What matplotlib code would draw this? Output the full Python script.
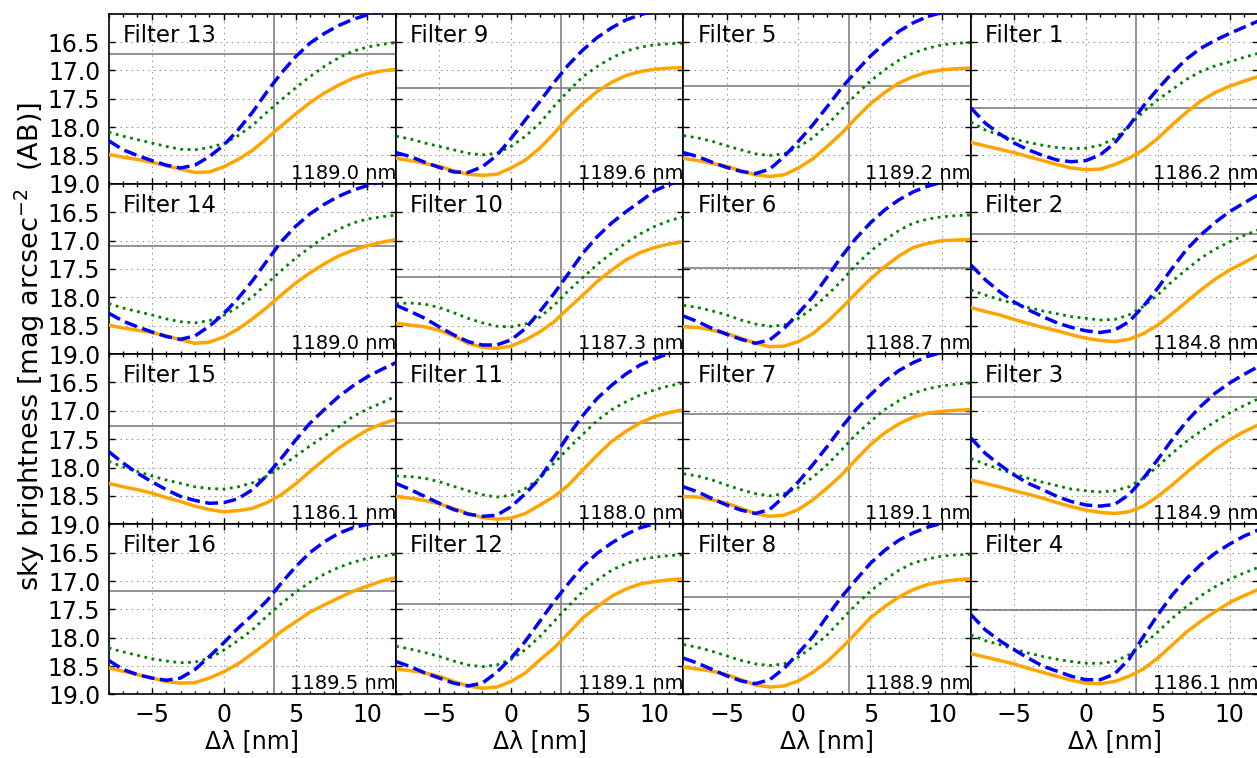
import numpy as np
import matplotlib
matplotlib.use('Agg')
import matplotlib.pyplot as plt
from matplotlib.ticker import MultipleLocator

plt.rcParams.update({'font.family': 'DejaVu Sans', 'axes.linewidth': 1.2})

# offset from filter centre, nm
dlam = np.arange(-8, 13)

# filter numbers in panel order (row by row)
layout = [[13, 9, 5, 1],
          [14, 10, 6, 2],
          [15, 11, 7, 3],
          [16, 12, 8, 4]]

centre_nm = {13: 1189.0, 9: 1189.6, 5: 1189.2, 1: 1186.2,
             14: 1189.0, 10: 1187.3, 6: 1188.7, 2: 1184.8,
             15: 1186.1, 11: 1188.0, 7: 1189.1, 3: 1184.9,
             16: 1189.5, 12: 1189.1, 8: 1188.9, 4: 1186.1}

# horizontal reference level per filter [mag arcsec^-2]
ref_level = {13: 16.71, 9: 17.31, 5: 17.28, 1: 17.67,
             14: 17.09, 10: 17.65, 6: 17.48, 2: 16.89,
             15: 17.26, 11: 17.21, 7: 17.05, 3: 16.75,
             16: 17.18, 12: 17.40, 8: 17.29, 4: 17.51}

ref_dlam = 3.5

# blue dashed curves
sky_dashed = {
    13: [18.24, 18.40, 18.50, 18.59, 18.67, 18.72, 18.67, 18.52, 18.32, 18.05, 17.74, 17.38, 17.05, 16.76, 16.52, 16.35, 16.21, 16.10, 16.02, 15.95, 15.90],
    9:  [18.45, 18.52, 18.62, 18.71, 18.79, 18.80, 18.70, 18.50, 18.20, 17.87, 17.55, 17.21, 16.90, 16.64, 16.42, 16.25, 16.11, 16.02, 15.95, 15.90, 15.87],
    5:  [18.45, 18.52, 18.62, 18.71, 18.78, 18.82, 18.74, 18.52, 18.25, 17.96, 17.64, 17.31, 17.02, 16.75, 16.52, 16.31, 16.16, 16.05, 15.98, 15.92, 15.88],
    1:  [17.66, 17.93, 18.12, 18.28, 18.40, 18.50, 18.58, 18.61, 18.59, 18.49, 18.28, 17.98, 17.63, 17.33, 17.05, 16.80, 16.61, 16.47, 16.35, 16.24, 16.13],
    14: [18.28, 18.42, 18.52, 18.61, 18.69, 18.74, 18.68, 18.51, 18.29, 18.02, 17.71, 17.36, 17.02, 16.75, 16.53, 16.36, 16.22, 16.11, 16.03, 15.96, 15.91],
    10: [18.14, 18.25, 18.37, 18.52, 18.66, 18.78, 18.84, 18.84, 18.75, 18.55, 18.25, 17.93, 17.58, 17.22, 16.93, 16.69, 16.49, 16.31, 16.12, 16.01, 15.93],
    6:  [18.33, 18.43, 18.55, 18.65, 18.74, 18.81, 18.75, 18.55, 18.28, 17.99, 17.64, 17.28, 16.96, 16.69, 16.46, 16.28, 16.14, 16.04, 15.97, 15.92, 15.88],
    2:  [17.43, 17.69, 17.90, 18.08, 18.22, 18.34, 18.45, 18.53, 18.59, 18.62, 18.58, 18.43, 18.16, 17.84, 17.49, 17.16, 16.90, 16.68, 16.49, 16.34, 16.19],
    15: [17.72, 17.92, 18.10, 18.25, 18.39, 18.51, 18.58, 18.63, 18.62, 18.55, 18.39, 18.14, 17.84, 17.52, 17.22, 16.98, 16.75, 16.56, 16.40, 16.27, 16.15],
    11: [18.28, 18.39, 18.51, 18.63, 18.74, 18.82, 18.86, 18.84, 18.69, 18.46, 18.19, 17.81, 17.43, 17.08, 16.78, 16.55, 16.35, 16.19, 16.08, 15.99, 15.92],
    7:  [18.34, 18.43, 18.55, 18.66, 18.75, 18.81, 18.74, 18.51, 18.25, 17.95, 17.63, 17.29, 16.98, 16.72, 16.48, 16.29, 16.15, 16.04, 15.97, 15.92, 15.88],
    3:  [17.48, 17.75, 17.95, 18.13, 18.28, 18.39, 18.51, 18.60, 18.66, 18.68, 18.65, 18.48, 18.19, 17.86, 17.51, 17.19, 16.92, 16.69, 16.51, 16.36, 16.22],
    16: [18.40, 18.56, 18.65, 18.71, 18.75, 18.71, 18.56, 18.33, 18.09, 17.83, 17.60, 17.35, 17.04, 16.75, 16.50, 16.31, 16.16, 16.06, 16.00, 15.95, 15.91],
    12: [18.42, 18.51, 18.62, 18.71, 18.80, 18.85, 18.80, 18.61, 18.36, 18.06, 17.71, 17.36, 17.04, 16.74, 16.51, 16.33, 16.18, 16.06, 15.99, 15.93, 15.89],
    8:  [18.36, 18.45, 18.56, 18.67, 18.76, 18.81, 18.74, 18.54, 18.27, 17.98, 17.62, 17.28, 16.98, 16.69, 16.46, 16.28, 16.15, 16.05, 15.98, 15.93, 15.89],
    4:  [17.59, 17.86, 18.05, 18.21, 18.36, 18.50, 18.59, 18.68, 18.74, 18.74, 18.64, 18.38, 17.98, 17.60, 17.25, 16.96, 16.71, 16.51, 16.35, 16.21, 16.10],
}

# green dotted curves
sky_dotted = {
    13: [18.09, 18.16, 18.22, 18.28, 18.34, 18.39, 18.40, 18.36, 18.29, 18.15, 17.97, 17.74, 17.52, 17.31, 17.11, 16.93, 16.78, 16.66, 16.59, 16.54, 16.51],
    9:  [18.16, 18.21, 18.28, 18.34, 18.40, 18.46, 18.49, 18.46, 18.34, 18.16, 17.93, 17.63, 17.36, 17.11, 16.93, 16.78, 16.66, 16.59, 16.55, 16.53, 16.52],
    5:  [18.15, 18.19, 18.25, 18.33, 18.40, 18.47, 18.50, 18.47, 18.35, 18.19, 17.96, 17.69, 17.43, 17.19, 16.99, 16.82, 16.69, 16.61, 16.55, 16.52, 16.51],
    1:  [17.91, 18.05, 18.14, 18.21, 18.27, 18.32, 18.36, 18.38, 18.37, 18.32, 18.20, 17.98, 17.73, 17.52, 17.34, 17.16, 17.02, 16.92, 16.85, 16.77, 16.70],
    14: [18.11, 18.19, 18.25, 18.31, 18.38, 18.43, 18.45, 18.41, 18.32, 18.17, 17.99, 17.76, 17.53, 17.31, 17.12, 16.94, 16.80, 16.69, 16.62, 16.58, 16.55],
    10: [18.11, 18.10, 18.12, 18.18, 18.27, 18.37, 18.45, 18.51, 18.52, 18.47, 18.35, 18.14, 17.88, 17.65, 17.42, 17.22, 17.04, 16.88, 16.75, 16.65, 16.58],
    6:  [18.14, 18.18, 18.24, 18.31, 18.40, 18.47, 18.51, 18.49, 18.37, 18.19, 17.96, 17.71, 17.43, 17.19, 16.99, 16.82, 16.69, 16.62, 16.58, 16.56, 16.55],
    2:  [17.87, 17.96, 18.04, 18.11, 18.18, 18.24, 18.29, 18.34, 18.37, 18.40, 18.39, 18.31, 18.16, 17.96, 17.72, 17.51, 17.31, 17.15, 17.02, 16.91, 16.81],
    15: [17.89, 17.99, 18.07, 18.15, 18.22, 18.28, 18.34, 18.37, 18.38, 18.34, 18.27, 18.15, 17.98, 17.80, 17.62, 17.45, 17.28, 17.10, 16.97, 16.86, 16.74],
    11: [18.15, 18.16, 18.19, 18.25, 18.33, 18.41, 18.48, 18.52, 18.49, 18.37, 18.19, 17.92, 17.66, 17.41, 17.17, 16.98, 16.84, 16.72, 16.63, 16.56, 16.51],
    7:  [18.11, 18.15, 18.22, 18.31, 18.39, 18.46, 18.50, 18.46, 18.35, 18.17, 17.95, 17.69, 17.42, 17.19, 16.98, 16.82, 16.69, 16.61, 16.56, 16.53, 16.51],
    3:  [17.84, 17.94, 18.03, 18.11, 18.19, 18.26, 18.32, 18.38, 18.41, 18.43, 18.41, 18.34, 18.19, 17.98, 17.75, 17.54, 17.36, 17.19, 17.04, 16.91, 16.79],
    16: [18.18, 18.25, 18.31, 18.37, 18.41, 18.44, 18.43, 18.36, 18.22, 18.05, 17.86, 17.62, 17.40, 17.20, 17.02, 16.88, 16.76, 16.67, 16.60, 16.56, 16.53],
    12: [18.15, 18.20, 18.26, 18.33, 18.41, 18.48, 18.51, 18.48, 18.38, 18.21, 17.98, 17.71, 17.44, 17.18, 16.98, 16.81, 16.69, 16.62, 16.58, 16.55, 16.54],
    8:  [18.12, 18.17, 18.24, 18.32, 18.40, 18.46, 18.49, 18.46, 18.34, 18.16, 17.95, 17.68, 17.42, 17.18, 16.98, 16.81, 16.68, 16.61, 16.56, 16.54, 16.53],
    4:  [17.95, 18.05, 18.12, 18.20, 18.27, 18.33, 18.38, 18.42, 18.45, 18.45, 18.42, 18.30, 18.12, 17.90, 17.66, 17.45, 17.26, 17.10, 16.97, 16.86, 16.76],
}

# orange solid curves
sky_solid = {
    13: [18.48, 18.53, 18.57, 18.62, 18.68, 18.74, 18.80, 18.79, 18.70, 18.57, 18.41, 18.20, 17.98, 17.77, 17.57, 17.40, 17.26, 17.14, 17.06, 17.01, 16.98],
    9:  [18.55, 18.59, 18.64, 18.69, 18.77, 18.83, 18.85, 18.83, 18.72, 18.58, 18.37, 18.11, 17.82, 17.58, 17.37, 17.21, 17.09, 17.02, 16.98, 16.96, 16.95],
    5:  [18.55, 18.59, 18.64, 18.69, 18.77, 18.84, 18.87, 18.84, 18.72, 18.56, 18.34, 18.11, 17.84, 17.59, 17.39, 17.22, 17.11, 17.03, 16.99, 16.97, 16.96],
    1:  [18.27, 18.33, 18.39, 18.45, 18.52, 18.59, 18.66, 18.72, 18.75, 18.74, 18.66, 18.55, 18.40, 18.20, 17.96, 17.74, 17.54, 17.39, 17.28, 17.19, 17.11],
    14: [18.49, 18.54, 18.58, 18.62, 18.68, 18.75, 18.81, 18.79, 18.70, 18.56, 18.38, 18.18, 17.96, 17.75, 17.57, 17.41, 17.27, 17.17, 17.09, 17.03, 16.98],
    10: [18.46, 18.49, 18.52, 18.58, 18.68, 18.81, 18.88, 18.90, 18.86, 18.75, 18.61, 18.43, 18.19, 17.96, 17.72, 17.52, 17.34, 17.21, 17.12, 17.06, 17.02],
    6:  [18.52, 18.53, 18.58, 18.64, 18.72, 18.81, 18.87, 18.86, 18.78, 18.64, 18.43, 18.19, 17.93, 17.68, 17.46, 17.27, 17.12, 17.05, 17.00, 16.99, 16.98],
    2:  [18.18, 18.25, 18.31, 18.39, 18.46, 18.53, 18.59, 18.66, 18.72, 18.76, 18.78, 18.74, 18.64, 18.49, 18.29, 18.08, 17.87, 17.68, 17.52, 17.39, 17.25],
    15: [18.28, 18.34, 18.39, 18.45, 18.53, 18.60, 18.68, 18.74, 18.78, 18.76, 18.72, 18.62, 18.48, 18.29, 18.07, 17.86, 17.66, 17.49, 17.34, 17.23, 17.15],
    11: [18.51, 18.54, 18.58, 18.64, 18.72, 18.81, 18.88, 18.91, 18.89, 18.81, 18.66, 18.51, 18.31, 18.04, 17.78, 17.54, 17.36, 17.21, 17.10, 17.03, 16.98],
    7:  [18.51, 18.52, 18.57, 18.63, 18.72, 18.81, 18.86, 18.84, 18.74, 18.57, 18.36, 18.13, 17.86, 17.60, 17.39, 17.23, 17.11, 17.04, 17.01, 16.99, 16.98],
    3:  [18.22, 18.28, 18.34, 18.41, 18.47, 18.54, 18.62, 18.69, 18.75, 18.79, 18.81, 18.78, 18.68, 18.51, 18.31, 18.09, 17.88, 17.68, 17.51, 17.37, 17.25],
    16: [18.53, 18.59, 18.65, 18.71, 18.77, 18.80, 18.79, 18.71, 18.60, 18.46, 18.28, 18.09, 17.89, 17.72, 17.55, 17.42, 17.30, 17.18, 17.09, 17.00, 16.94],
    12: [18.55, 18.58, 18.62, 18.68, 18.77, 18.85, 18.89, 18.87, 18.77, 18.62, 18.39, 18.18, 17.92, 17.65, 17.45, 17.27, 17.14, 17.05, 17.01, 16.98, 16.96],
    8:  [18.52, 18.55, 18.59, 18.65, 18.74, 18.83, 18.87, 18.85, 18.76, 18.61, 18.42, 18.18, 17.92, 17.65, 17.45, 17.28, 17.15, 17.06, 17.01, 16.98, 16.96],
    4:  [18.28, 18.34, 18.40, 18.46, 18.54, 18.61, 18.68, 18.75, 18.80, 18.81, 18.77, 18.68, 18.55, 18.36, 18.13, 17.90, 17.71, 17.54, 17.38, 17.26, 17.15],
}

fig, axes = plt.subplots(4, 4, sharex=True, sharey=True, figsize=(12.57, 7.58), dpi=100)
fig.subplots_adjust(left=0.0865, right=1.001, top=0.982, bottom=0.0838, wspace=0, hspace=0)

for r in range(4):
    for c in range(4):
        ax = axes[r, c]
        f = layout[r][c]
        ax.axhline(ref_level[f], color='0.5', lw=1.2, zorder=1)
        ax.axvline(ref_dlam, color='0.5', lw=1.2, zorder=1)
        ax.plot(dlam, sky_solid[f], color='orange', lw=2.5, zorder=3)
        ax.plot(dlam, sky_dotted[f], color='g', ls=':', lw=2.0, zorder=4)
        ax.plot(dlam, sky_dashed[f], color='b', ls='--', lw=2.5, zorder=5)

        ax.set_xlim(-8, 12)
        ax.set_ylim(19, 16)
        ax.set_xticks([-5, 0, 5, 10])
        ax.xaxis.set_minor_locator(MultipleLocator(1))
        ax.set_yticks([16.5, 17.0, 17.5, 18.0, 18.5, 19.0])
        ax.grid(True, which='major', color='0.35', ls=(0, (2, 6)), lw=0.5, zorder=0)
        ax.tick_params(which='both', direction='in', top=True, right=True,
                       labelsize=17, width=1)
        ax.tick_params(which='major', length=4.5, pad=6)
        ax.tick_params(which='minor', length=2.2)

        ax.text(0.05, 0.835, f'Filter {f}', transform=ax.transAxes, fontsize=16.5)
        ax.text(1.0, 0.03, f'{centre_nm[f]:.1f} nm', transform=ax.transAxes,
                ha='right', va='baseline', fontsize=14, zorder=6)
        if r == 3:
            ax.set_xlabel('Δλ [nm]', fontsize=17, labelpad=2)

fig.text(0.024, 0.543, r'sky brightness [mag arcsec$^{-2}$  (AB)]', rotation=90,
         ha='center', va='center', fontsize=19.5)

fig.savefig('out.png', dpi=100)
